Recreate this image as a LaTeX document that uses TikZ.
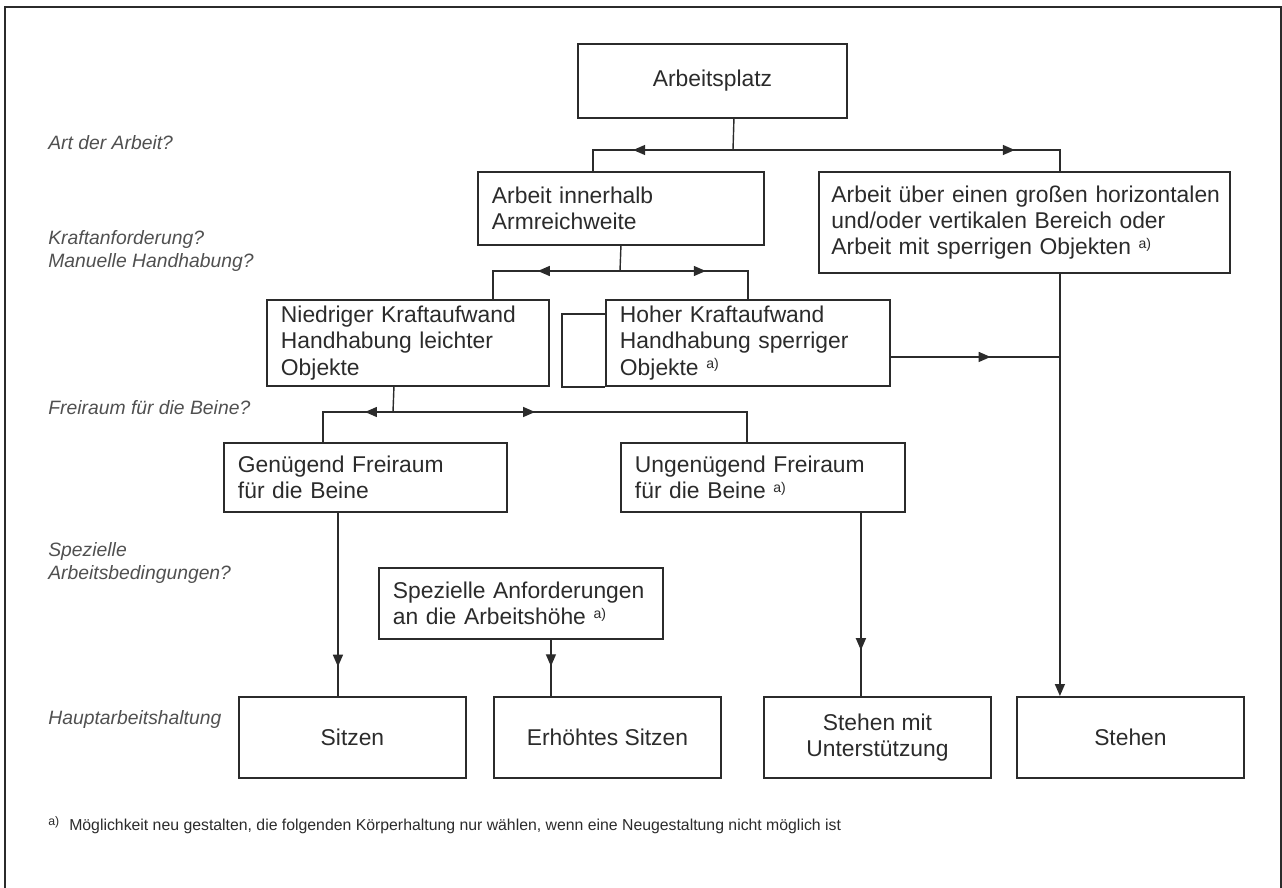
\documentclass[tikz,border=0pt]{standalone}
\usepackage{fontspec}
\setmainfont{Liberation Sans}
\usetikzlibrary{arrows.meta, decorations.markings}

\definecolor{ink}{HTML}{2B2B2B}
\definecolor{asktext}{HTML}{505050}
\newcommand{\boxfont}{\fontsize{13}{15}\selectfont\hyphenpenalty=10000}
\newcommand{\askfont}{\fontsize{11}{13}\selectfont\itshape}
\newcommand{\notefont}{\fontsize{9}{11}\selectfont}
\newcommand{\fnmark}{\raisebox{0.55ex}{\fontsize{8}{8}\selectfont a)}}

\tikzstyle{box} = [rectangle, draw=ink, line width=1.1pt, anchor=north west, align=left, inner xsep=0.28cm, text=ink, font=\boxfont]
\tikzstyle{posture} = [box, align=center, minimum width=4.54cm, minimum height=1.62cm]
\tikzstyle{question} = [anchor=west, align=left, inner sep=0pt, text=asktext, font=\askfont]
\tikzstyle{link} = [draw=ink, line width=0.8pt]
\tikzstyle{arrow} = [link, -{Triangle[length=2.4mm,width=2mm]}]
\tikzset{midarrow/.style={postaction={decorate}, decoration={markings, mark=at position #1 with {\arrow{Triangle[length=2.4mm,width=2mm]}}}}}

\begin{document}
\begin{tikzpicture}[x=0.02cm, y=-0.02cm]

  \useasboundingbox (0,0) rectangle (1282,888);
  \draw[ink, line width=1.3pt] (5,888) -- (5,7) -- (1281,7) -- (1281,888);

  % questions on the left
  \node[question] (qart) at (48,143) {Art der Arbeit?};
  \node[question] (qkraft) at (48,251) {Kraftanforderung?\\Manuelle Handhabung?};
  \node[question] (qbeine) at (48,408) {Freiraum für die Beine?};
  \node[question] (qspez) at (48,563) {Spezielle\\Arbeitsbedingungen?};
  \node[question] (qhaltung) at (48,720) {Hauptarbeitshaltung};

  % boxes
  \node[box, align=center, minimum width=5.38cm, minimum height=1.48cm] (platz) at (577,43) {Arbeitsplatz};
  \node[box, text width=5.16cm, minimum height=1.46cm] (innerhalb) at (477,171) {Arbeit innerhalb\\Armreichweite};
  \node[box, inner xsep=0.25cm, text width=7.72cm, minimum height=2.02cm] (bereich) at (818,171) {\mbox{Arbeit über einen großen horizontalen}\\und/oder vertikalen Bereich oder\\Arbeit mit sperrigen Objekten \fnmark};
  \node[box, text width=5.08cm, minimum height=1.72cm] (niedrig) at (266,299) {Niedriger Kraftaufwand\\Handhabung leichter\\Objekte};
  \node[box, text width=5.12cm, minimum height=1.72cm] (hoch) at (605,299) {Hoher Kraftaufwand\\Handhabung sperriger\\Objekte \fnmark};
  \node[box, text width=5.10cm, minimum height=1.38cm] (genuegend) at (223,442) {Genügend Freiraum\\für die Beine};
  \node[box, text width=5.12cm, minimum height=1.38cm] (ungenuegend) at (620,442) {Ungenügend Freiraum\\für die Beine \fnmark};
  \node[box, text width=5.12cm, minimum height=1.42cm] (spezial) at (378,567) {Spezielle Anforderungen\\an die Arbeitshöhe \fnmark};

  \node[posture] (sitzen) at (238,696) {Sitzen};
  \node[posture] (erhoeht) at (493,696) {Erhöhtes Sitzen};
  \node[posture] (stehenmit) at (763,696) {Stehen mit\\Unterstützung};
  \node[posture] (stehen) at (1016,696) {Stehen};

  \node[question, font=\notefont, text=ink] (fussnote) at (48,825) {\raisebox{0.55ex}{\fontsize{7}{7}\selectfont a)}\hspace{0.2cm}Möglichkeit neu gestalten, die folgenden Körperhaltung nur wählen, wenn eine Neugestaltung nicht möglich ist};

  % branch points
  \coordinate (k1) at (733,150);
  \coordinate (k2) at (620,271);
  \coordinate (k3) at (393,412);
  \coordinate (g1) at ([xshift=-0.55cm]genuegend.south);
  \coordinate (s1) at ([xshift=0.6cm]spezial.south);
  \coordinate (u1) at ([xshift=1.96cm]ungenuegend.south);
  \coordinate (b1) at ([xshift=0.71cm]bereich.south);
  \coordinate (h1) at ([yshift=-0.28cm]hoch.east);

  % connectors
  \draw[link] ([xshift=0.43cm]platz.south) -- (k1);
  \draw[link, midarrow=0.62] (k1) -| ([xshift=-0.56cm]innerhalb.north);
  \draw[link, midarrow=0.81] (k1) -| ([xshift=0.71cm]bereich.north);

  \draw[link] (innerhalb.south) -- (k2);
  \draw[link, midarrow=0.53] (k2) -| ([xshift=1.7cm]niedrig.north);
  \draw[link, midarrow=0.55] (k2) -| (hoch.north);

  \draw[link] ([xshift=-0.28cm]niedrig.south) -- (k3);
  \draw[link, midarrow=0.28] (k3) -| ([xshift=-0.85cm]genuegend.north);
  \draw[link, midarrow=0.37] (k3) -| ([xshift=-0.32cm]ungenuegend.north);

  \draw[box] ([yshift=0.58cm]hoch.west) -- ++(-43,0) |- (hoch.south west);
  \draw[link, midarrow=0.59] (h1) -- (h1 -| b1);

  \draw[link, midarrow=0.84] (g1) -- (g1 |- sitzen.north);
  \draw[link, midarrow=0.47] (s1) -- (s1 |- erhoeht.north);
  \draw[link, midarrow=0.75] (u1) -- (u1 |- stehenmit.north);
  \draw[arrow] (b1) -- (b1 |- stehen.north);

\end{tikzpicture}
\end{document}
